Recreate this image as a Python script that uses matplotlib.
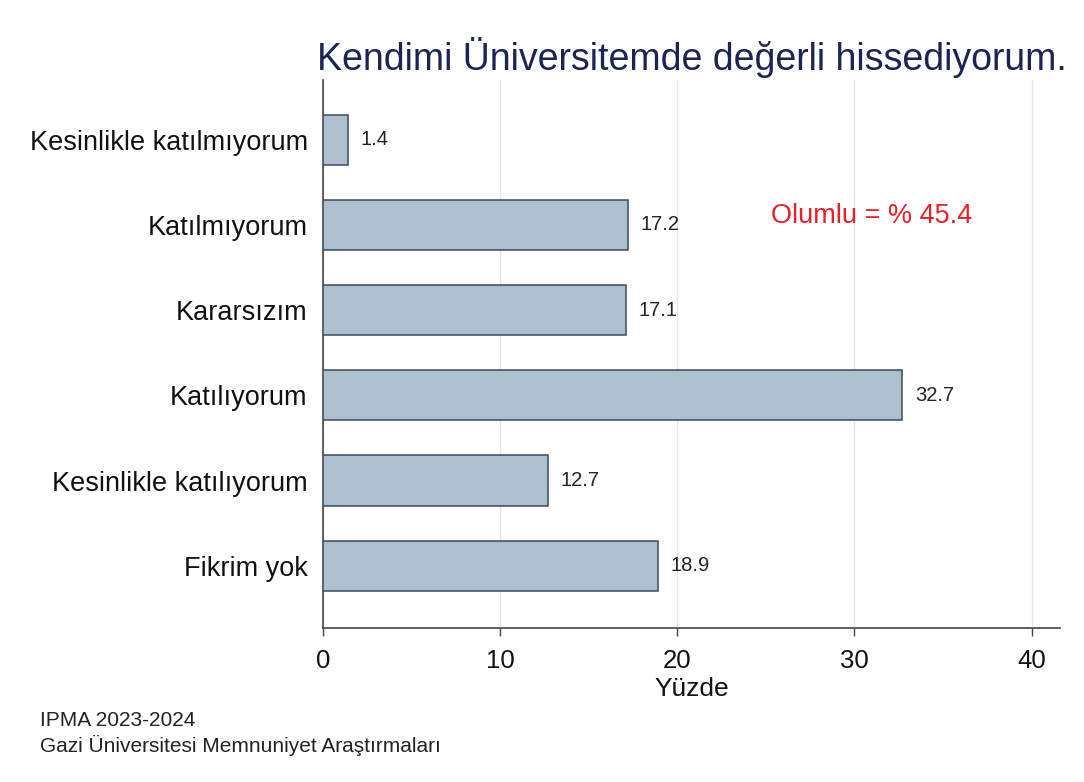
import matplotlib
matplotlib.use("Agg")
import matplotlib.pyplot as plt

categories = ["Kesinlikle katılmıyorum", "Katılmıyorum", "Kararsızım",
              "Katılıyorum", "Kesinlikle katılıyorum", "Fikrim yok"]
values = [1.4, 17.2, 17.1, 32.7, 12.7, 18.9]
xticks = [0, 10, 20, 30, 40]
title = "Kendimi Üniversitemde değerli hissediyorum."
note = "Olumlu = % 45.4"
footer_lines = ["IPMA 2023-2024", "Gazi Üniversitesi Memnuniyet Araştırmaları"]

plt.rcParams['font.family'] = ['Liberation Sans', 'DejaVu Sans']

fig = plt.figure(figsize=(10.84, 7.82), dpi=100)
ax = fig.add_axes([323/1084, 1 - 628/782, (1060 - 323)/1084, (628 - 80)/782])

ypos = list(range(len(categories)))
ax.barh(ypos, values, height=0.59, color="#aebfcf", edgecolor="#3b4a5c", linewidth=1.1, zorder=3)
for y, v in zip(ypos, values):
    ax.text(v + 0.7, y, f"{v}", va="center", ha="left", fontsize=14.5, color="#222222")

ax.set_ylim(len(categories) - 1 + 0.73, -0.7)
ax.set_xlim(0, 41.6)
ax.set_yticks(ypos)
ax.set_yticklabels(categories, fontsize=19.5, color="#111111")
ax.set_xticks(xticks)
ax.set_xticklabels([str(t) for t in xticks], fontsize=18.5, color="#111111")
ax.tick_params(axis="y", length=0, pad=11)
ax.tick_params(axis="x", length=6, width=1, color="#444444", pad=9)
ax.xaxis.grid(True, color="#e6e6e6", linewidth=1, zorder=0)
ax.set_axisbelow(True)
for s in ["top", "right"]:
    ax.spines[s].set_visible(False)
ax.spines["left"].set_color("#444444")
ax.spines["bottom"].set_color("#444444")
ax.spines["left"].set_linewidth(1.2)
ax.spines["bottom"].set_linewidth(1.2)
ax.set_xlabel("Yüzde", fontsize=19, color="#111111", labelpad=3)

ax.text(25.3, 0.9, note, color="#e8202a", fontsize=19.5, ha="left", va="center")

fig.text(692/1084, 1 - 57/782, title, ha="center", va="center", fontsize=27, color="#1c2455")
fig.text(40/1084, 1 - 720/782, footer_lines[0], ha="left", va="center", fontsize=15, color="#222222")
fig.text(40/1084, 1 - 745/782, footer_lines[1], ha="left", va="center", fontsize=15, color="#222222")

fig.savefig("out.png", dpi=100, facecolor="white")
